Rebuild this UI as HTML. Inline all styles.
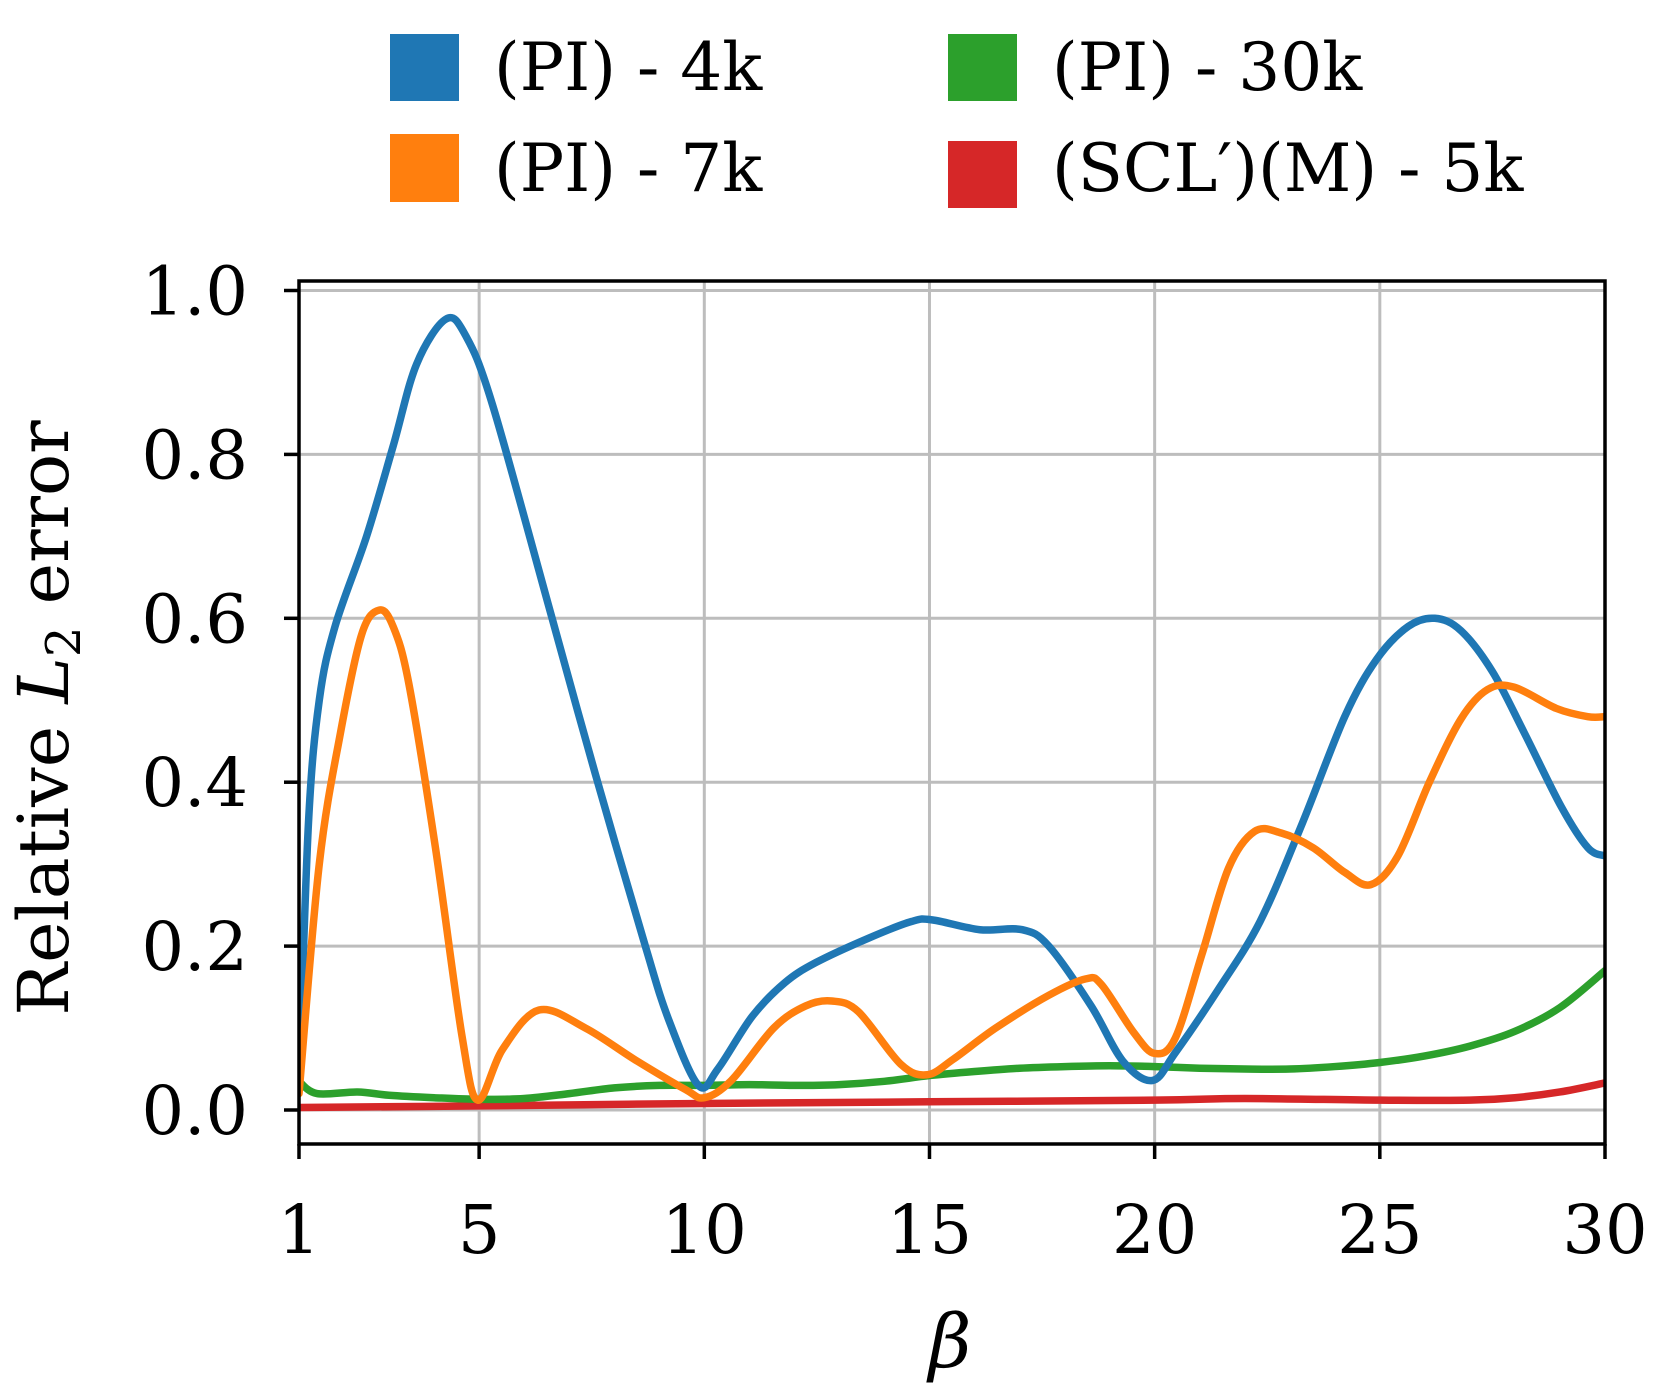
<!DOCTYPE html>
<html><head><meta charset="utf-8"><style>
html,body{margin:0;padding:0;background:#fff;width:1659px;height:1400px;overflow:hidden}
text{font-family:"DejaVu Serif","Liberation Serif",serif;fill:#000}
</style></head><body>
<svg id="chart" width="1659" height="1400" viewBox="0 0 1659 1400" xmlns="http://www.w3.org/2000/svg">
<defs><clipPath id="clip"><rect x="299" y="281" width="1306" height="863"/></clipPath></defs>
<g id="grid"></g>
<g id="series" clip-path="url(#clip)"></g>
<rect x="299" y="281" width="1306" height="863" fill="none" stroke="#000" stroke-width="3.5"/>
<g id="ticks"></g>
<text transform="translate(68,718) rotate(-90)" text-anchor="middle" font-size="70">Relative <tspan font-style="italic">L</tspan><tspan font-size="48" dy="12">2</tspan><tspan dy="-12"> error</tspan></text>
<text x="950" y="1367" text-anchor="middle" font-size="74" font-style="italic">β</text>
<g>
 <g><rect x="390" y="34" width="69" height="67" fill="#1f77b4"/><text x="494" y="90" font-size="66">(PI) - 4k</text></g>
 <g><rect x="390" y="134" width="69" height="68" fill="#ff7f0e"/><text x="494" y="191" font-size="66">(PI) - 7k</text></g>
 <g><rect x="948" y="34" width="69" height="67" fill="#2ca02c"/><text x="1052" y="90" font-size="66">(PI) - 30k</text></g>
 <g><rect x="948" y="141" width="69" height="67" fill="#d62728"/><text x="1052" y="191" font-size="66">(SCL′)(M) - 5k</text></g>
</g>
</svg>
<script>
const xTicks=[1,5,10,15,20,25,30];
const yTicks=[0,0.2,0.4,0.6,0.8,1.0];
const yTickLabels=["0.0","0.2","0.4","0.6","0.8","1.0"];
const blueX=[1,1.21,1.45,1.8,2.5,3.09,3.61,4.26,4.7,5.3,6.62,7.58,8.69,9.21,9.87,10.3,11.06,11.78,12.48,13.66,14.6,15.06,16.12,17.06,17.65,18.59,19.29,19.95,20.46,21.4,22.34,23.28,24.22,24.93,25.63,26.22,26.8,27.5,28.21,29.03,29.62,30];
const blueY=[0.03,0.35,0.5,0.59,0.7,0.81,0.91,0.965,0.945,0.86,0.6,0.41,0.2,0.11,0.03,0.05,0.114,0.155,0.18,0.21,0.23,0.232,0.22,0.22,0.2,0.127,0.06,0.036,0.07,0.146,0.23,0.35,0.48,0.55,0.59,0.6,0.585,0.535,0.46,0.37,0.32,0.31];
const orangeX=[1,1.45,1.92,2.39,2.78,3.09,3.44,4.03,4.62,4.97,5.52,6.33,7.36,8.47,9.58,10.0,10.6,11.54,12.25,12.83,13.42,14.36,14.95,15.53,16.47,17.65,18.47,18.82,19.53,20.0,20.46,21.05,21.64,22.22,22.81,23.52,24.22,24.8,25.4,26.1,26.8,27.39,27.98,28.92,29.62,30];
const orangeY=[0.02,0.3,0.46,0.58,0.61,0.59,0.52,0.32,0.09,0.012,0.074,0.122,0.1,0.061,0.025,0.015,0.036,0.1,0.127,0.133,0.12,0.056,0.043,0.062,0.1,0.14,0.16,0.153,0.095,0.069,0.088,0.19,0.295,0.34,0.338,0.32,0.29,0.275,0.31,0.4,0.477,0.513,0.516,0.49,0.48,0.48];
const greenX=[1,1.4,2.3,3,4,5,6,7,8,9,10,11,12,13,14,15,16,17,18,19,20,21,22,23,24,25,26,27,28,29,30];
const greenY=[0.035,0.02,0.022,0.018,0.015,0.013,0.014,0.02,0.027,0.03,0.03,0.031,0.03,0.031,0.035,0.042,0.047,0.051,0.053,0.054,0.053,0.051,0.05,0.05,0.053,0.058,0.066,0.078,0.096,0.125,0.17];
const redX=[1,5,10,15,20,22,25,27,28,29,30];
const redY=[0.003,0.005,0.008,0.01,0.012,0.014,0.012,0.012,0.015,0.022,0.033];
const NS="http://www.w3.org/2000/svg";
const X0=299,X1=1605,Y0=1110,Y1=290.5;
function sx(v){return X0+(v-1)/29*(X1-X0);}
function sy(v){return Y0+v*(Y1-Y0);}
const grid=document.getElementById('grid'),ticks=document.getElementById('ticks'),series=document.getElementById('series');
function mk(tag,attrs,parent){const e=document.createElementNS(NS,tag);for(const k in attrs)e.setAttribute(k,attrs[k]);parent.appendChild(e);return e;}
xTicks.forEach(t=>{
 const g=mk('line',{x1:sx(t),x2:sx(t),y1:281,y2:1144,stroke:'#bdbdbd','stroke-width':3},grid);
 
 
 const k=mk('line',{x1:sx(t),x2:sx(t),y1:1144,y2:1159,stroke:'#000','stroke-width':3.5},ticks);
 
 
 const l=mk('text',{x:sx(t),y:1253,'text-anchor':'middle','font-size':67},ticks);
 l.textContent=t;
 
 
});
yTicks.forEach((t,i)=>{
 const g=mk('line',{x1:299,x2:1605,y1:sy(t),y2:sy(t),stroke:'#bdbdbd','stroke-width':3},grid);
 
 
 const k=mk('line',{x1:284,x2:299,y1:sy(t),y2:sy(t),stroke:'#000','stroke-width':3.5},ticks);
 
 
 const l=mk('text',{x:248,y:sy(t)+24,'text-anchor':'end','font-size':67},ticks);
 l.textContent=yTickLabels[i];
 
 
});
function path(xs,ys){
 const p=xs.map((x,i)=>[sx(x),sy(ys[i])]);
 let d='M'+p[0][0]+','+p[0][1];
 for(let i=0;i<p.length-1;i++){
  const a=p[Math.max(0,i-1)],b=p[i],c=p[i+1],e=p[Math.min(p.length-1,i+2)];
  const c1=[b[0]+(c[0]-a[0])/6,b[1]+(c[1]-a[1])/6],c2=[c[0]-(e[0]-b[0])/6,c[1]-(e[1]-b[1])/6];
  d+=' C'+c1[0]+','+c1[1]+' '+c2[0]+','+c2[1]+' '+c[0]+','+c[1];
 }
 return d;
}
[[redX,redY,'#d62728','line-scl-m-5k'],[greenX,greenY,'#2ca02c','line-pi-30k'],[blueX,blueY,'#1f77b4','line-pi-4k'],[orangeX,orangeY,'#ff7f0e','line-pi-7k']].forEach(s=>{
 const e=mk('path',{d:path(s[0],s[1]),fill:'none',stroke:s[2],'stroke-width':7.5,'stroke-linejoin':'round','stroke-linecap':'round'},series);
 
 
});
</script>
</body></html>
